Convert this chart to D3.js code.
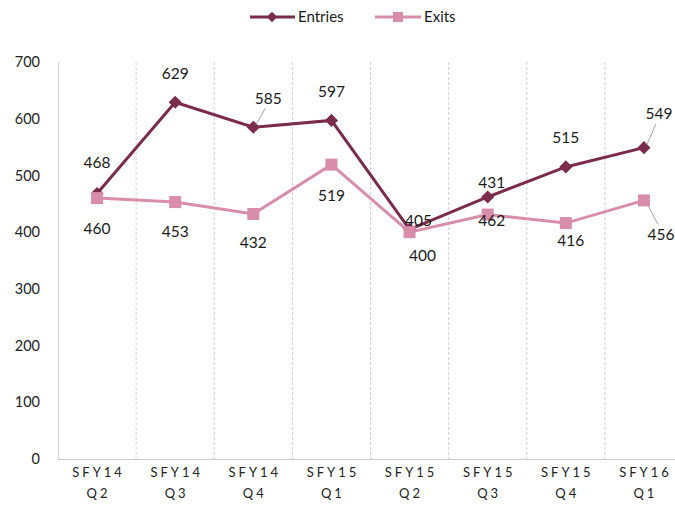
<!DOCTYPE html>
<html><head><meta charset="utf-8">
<script src="https://cdn.jsdelivr.net/npm/d3@7"></script>
<style>body{margin:0;background:#fff}svg{display:block;font-family:Lato,"Open Sans",sans-serif}</style>
</head><body><svg id="c" width="675" height="512"></svg>
<script>
const categories = [["SFY14","Q2"],["SFY14","Q3"],["SFY14","Q4"],["SFY15","Q1"],["SFY15","Q2"],["SFY15","Q3"],["SFY15","Q4"],["SFY16","Q1"]];
const entries = [468,629,585,597,405,462,515,549];
const exits = [460,453,432,519,400,431,416,456];
const yTicks = [0,100,200,300,400,500,600,700];

// label offsets (layout only)
const entryOff = [[0,-31],[0,-29],[15,-29],[0,-29],[9,-9],[4,24],[0,-29],[15,-34]];
const exitOff = [[0,30],[0,29],[0,29],[0,31],[13,23],[4,-32],[5,18],[17,34]];
const entryLeader = [false,false,true,false,false,false,false,true];
const exitLeader = [false,false,false,false,false,false,false,true];

const svg = d3.select("#c");
const x = d3.scaleBand().domain(d3.range(categories.length)).range([58,683]);
const y = d3.scaleLinear().domain([0,700]).range([459,62]);
const cx = i => x(i) + x.bandwidth()/2;

svg.append("g").selectAll("line").data(d3.range(1,categories.length)).join("line")
  .attr("x1", i=>x(i)).attr("x2", i=>x(i)).attr("y1", y(700)).attr("y2", y(0))
  .attr("stroke","#cfcfcf").attr("stroke-dasharray","3,2").attr("stroke-width",1);
svg.append("line").attr("x1",58.5).attr("x2",58.5).attr("y1",y(700)).attr("y2",y(0)).attr("stroke","#d0d0d0");
svg.append("line").attr("x1",58).attr("x2",683).attr("y1",y(0)+0.5).attr("y2",y(0)+0.5).attr("stroke","#c8c8c8");

svg.append("g").selectAll("text").data(yTicks).join("text")
  .attr("x",40).attr("y",d=>y(d)).attr("dy","0.35em").attr("text-anchor","end")
  .attr("font-size",14.5).attr("fill","#222").text(d=>d);

const xl = svg.append("g").selectAll("text").data(categories).join("text")
  .attr("text-anchor","middle").attr("font-size",13).attr("fill","#222").attr("letter-spacing","3px");
xl.append("tspan").attr("x",(d,i)=>cx(i)+1.5).attr("y",477).text(d=>d[0]);
xl.append("tspan").attr("x",(d,i)=>cx(i)+1.5).attr("y",498).text(d=>d[1]);

const cE = "#7b2c4d", cX = "#d88ea9";
const line = d3.line().x((d,i)=>cx(i)).y(d=>y(d));
svg.append("path").datum(entries).attr("d",line).attr("fill","none").attr("stroke",cE).attr("stroke-width",3);
svg.append("path").datum(exits).attr("d",line).attr("fill","none").attr("stroke",cX).attr("stroke-width",3);

svg.append("g").selectAll("path").data(entries).join("path")
  .attr("d",d3.symbol(d3.symbolDiamond2,110)())
  .attr("transform",(d,i)=>`translate(${cx(i)},${y(d)})`).attr("fill",cE);
svg.append("g").selectAll("rect").data(exits).join("rect")
  .attr("x",(d,i)=>cx(i)-6).attr("y",d=>y(d)-6).attr("width",12).attr("height",12).attr("fill",cX);

function leaders(vals, off, flags){
  svg.append("g").selectAll("line").data(vals.map((v,i)=>({v,i})).filter(d=>flags[d.i])).join("line")
    .attr("x1",d=>cx(d.i)+3).attr("y1",d=>y(d.v)+(off[d.i][1]<0?-3:3))
    .attr("x2",d=>cx(d.i)+off[d.i][0]-3).attr("y2",d=>y(d.v)+off[d.i][1]+(off[d.i][1]<0?10:-10))
    .attr("stroke","#a6a6a6").attr("stroke-width",1);
}
leaders(entries, entryOff, entryLeader);
leaders(exits, exitOff, exitLeader);

function labels(vals, off){
  svg.append("g").selectAll("text").data(vals).join("text")
    .attr("x",(d,i)=>cx(i)+off[i][0]).attr("y",(d,i)=>y(d)+off[i][1]).attr("dy","0.35em")
    .attr("text-anchor","middle").attr("font-size",15.5).attr("fill","#1a1a1a").text(d=>d);
}
labels(entries, entryOff);
labels(exits, exitOff);

const lg = svg.append("g");
lg.append("line").attr("x1",250).attr("x2",295).attr("y1",17).attr("y2",17).attr("stroke",cE).attr("stroke-width",3);
lg.append("path").attr("d",d3.symbol(d3.symbolDiamond2,70)()).attr("transform","translate(272,17)").attr("fill",cE);
lg.append("text").attr("x",298).attr("y",17).attr("dy","0.35em").attr("font-size",15).attr("fill","#1a1a1a").text("Entries");
lg.append("line").attr("x1",375).attr("x2",421).attr("y1",17).attr("y2",17).attr("stroke",cX).attr("stroke-width",3);
lg.append("rect").attr("x",393).attr("y",12).attr("width",10).attr("height",10).attr("fill",cX);
lg.append("text").attr("x",424).attr("y",17).attr("dy","0.35em").attr("font-size",15).attr("fill","#1a1a1a").text("Exits");
</script></body></html>
